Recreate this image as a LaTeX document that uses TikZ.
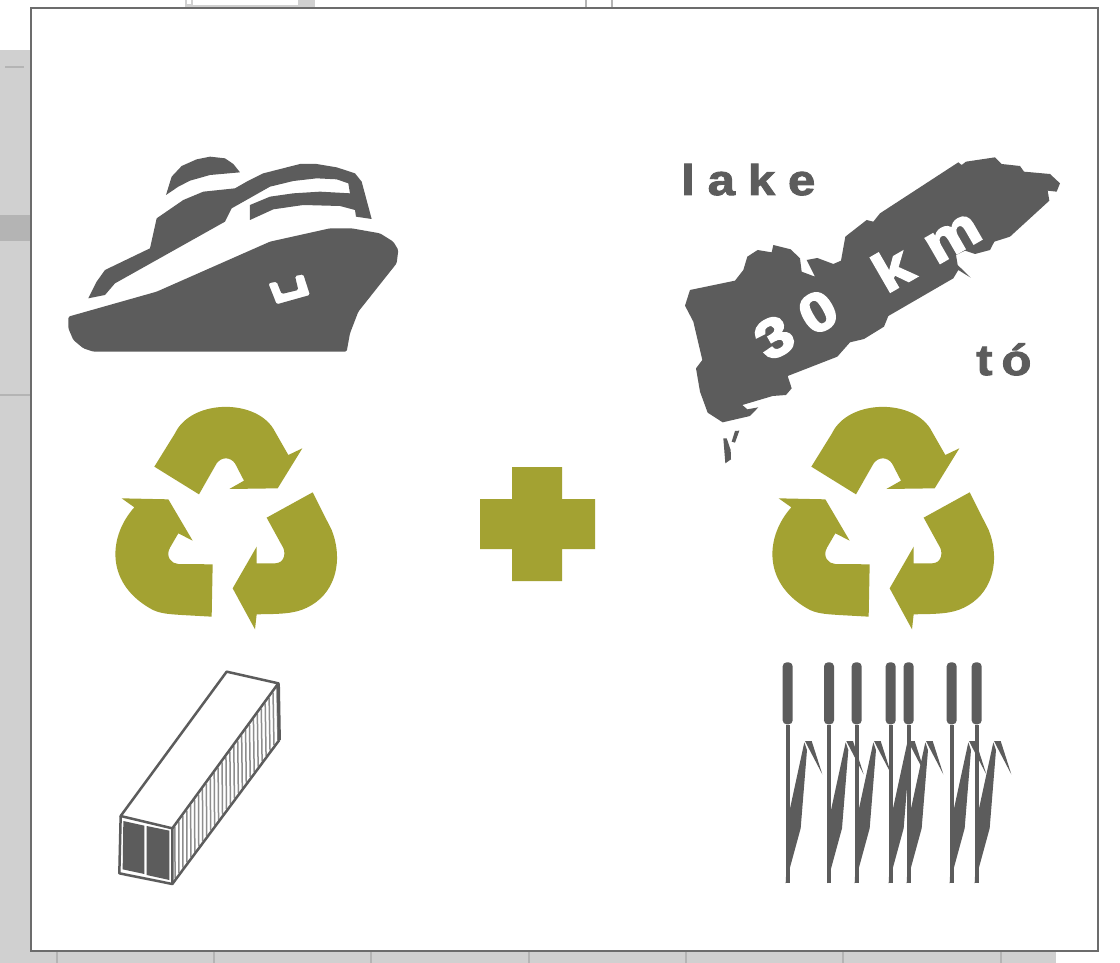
\documentclass[tikz,border=0pt]{standalone}
\usepackage{fontspec}
\newfontfamily\iconfont[LetterSpace=30,FakeStretch=1.14,FakeBold=2.2]{Liberation Sans Bold}
\newfontfamily\kmfont[LetterSpace=42,FakeStretch=1.16,FakeBold=4]{Liberation Sans Bold}
\definecolor{iconGray}{HTML}{5C5C5C}
\definecolor{iconOlive}{HTML}{A3A232}
\definecolor{paneGray}{HTML}{D0D0D0}
\definecolor{tickGray}{HTML}{B4B4B4}
\begin{document}
\begin{tikzpicture}[x=1pt,y=-1pt, icon/.style={fill=iconGray,draw=none}, olive/.style={fill=iconOlive,draw=none}, pane/.style={fill=paneGray,draw=none}, tick/.style={draw=tickGray,line width=1.5pt}, lab/.style={text=iconGray,inner sep=0pt,anchor=base west}, kmtext/.style={text=white,inner sep=0pt,rotate=30}, boxline/.style={draw=iconGray,line width=2.5pt,line join=round}]
\useasboundingbox (0,0) rectangle (1120,963);
% window behind the sheet
\fill[white] (0,0) rectangle (1120,963);
\fill[pane] (0,50) rectangle (31,963);
\fill[pane] (31,951) rectangle (1056,963);
\fill[pane] (185,0) rectangle (315,8);
\fill[white] (193,0) rectangle (298,5);
\fill[white] (187,0) rectangle (191,4);
\fill[tickGray] (0,215) rectangle (31,241);
\draw[tick] (5,67) -- (24,67);
\draw[tick] (0,395) -- (31,395);
\draw[tick] (586,0) -- (586,8);
\draw[tick] (612,0) -- (612,8);
\foreach \tickx in {57,214,371,529,686,843,1001}
  \draw[tick] (\tickx,951) -- (\tickx,963);
\fill[white] (31,8) rectangle (1098,951);
\draw[draw=iconGray!90,line width=1.2pt] (31,8) rectangle (1098,951);
% ship
\begin{scope}[shift={(50,140)},scale=1/3]
\fill[icon,even odd rule,rounded corners=1.5pt] (55,530) -- (320,455) -- (660,305) -- (840,265) -- (905,265) -- (990,280) -- (1030,305) -- (1045,330) -- (1040,370) -- (925,515) -- (900,580) -- (890,635) -- (130,635) -- (100,625) -- (70,600) -- (55,565) -- cycle
  (655,430) -- (680,425) -- (695,462) -- (745,450) -- (735,408) -- (760,403) -- (780,465) -- (680,493) -- cycle;
\fill[icon] (115,475) -- (165,465) -- (195,430) -- (525,245) -- (545,205) -- (660,140) -- (730,123) -- (800,115) -- (860,118) -- (895,130) -- (900,160) -- (810,155) -- (730,160) -- (660,170) -- (600,195) -- (600,240) -- (670,208) -- (760,195) -- (870,198) -- (915,210) -- (918,230) -- (965,237) -- (935,125) -- (915,100) -- (860,82) -- (800,72) -- (750,72) -- (640,100) -- (590,125) -- (555,145) -- (460,155) -- (400,180) -- (320,235) -- (300,325) -- (165,390) -- (140,425) -- cycle;
\fill[icon] (348,165) -- (365,110) -- (395,78) -- (440,58) -- (480,50) -- (525,55) -- (550,72) -- (570,97) -- (480,105) -- (420,122) -- (385,140) -- cycle;
\end{scope}
% lake
\begin{scope}[shift={(660,140)},scale=1/3]
\fill[icon] (75,497) -- (90,450) -- (225,422) -- (250,390) -- (262,350) -- (293,330) -- (335,337) -- (340,315) -- (392,328) -- (420,355) -- (425,395) -- (465,410) -- (440,360) -- (472,354) -- (520,372) -- (543,362) -- (556,290) -- (620,240) -- (640,245) -- (660,220) -- (895,67) -- (905,75) -- (918,65) -- (1005,52) -- (1025,72) -- (1080,78) -- (1092,95) -- (1170,102) -- (1200,130) -- (1190,155) -- (1163,152) -- (1168,182) -- (1050,290) -- (1003,305) -- (990,330) -- (945,342) -- (915,332) -- (888,345) -- (893,375) -- (932,413) -- (895,390) -- (880,415) -- (685,528) -- (672,560) -- (612,597) -- (570,607) -- (532,650) -- (383,708) -- (395,745) -- (378,765) -- (338,768) -- (247,795) -- (262,808) -- (295,802) -- (270,828) -- (188,847) -- (143,818) -- (120,755) -- (108,685) -- (127,660) -- (100,545) -- cycle;
\fill[icon] (190,895) -- (200,895) -- (212,930) -- (213,958) -- (196,970) -- cycle;
\fill[icon] (225,873) -- (238,872) -- (225,908) -- (215,905) -- cycle;
\end{scope}
\node[lab,font={\iconfont\fontsize{43}{43}\selectfont}] (lakelab) at (681,195) {lake};
\node[lab,font={\iconfont\fontsize{43}{43}\selectfont}] (tolab) at (976,375) {t\kern9ptó};
\node[kmtext,font={\kmfont\fontsize{54}{54}\selectfont}] (kmlab) at (867,283) {3\kern15.7pt0\kern11pt{} km};
% recycling marks
\foreach \recx in {0,657} {
\begin{scope}[shift={(100+\recx,395)},scale=1/3]
\fill[olive] (163,215) -- (225,115) .. controls (275,10) and (475,10) .. (525,110) -- (565,180) -- (607,160) -- (533,280) -- (388,282) -- (432,257) -- (405,205) .. controls (390,185) and (365,185) .. (350,205) -- (297,298) -- cycle;
\fill[olive] (65,310) -- (205,313) -- (278,437) -- (235,415) -- (210,458) .. controls (195,485) and (215,507) .. (235,507) -- (338,508) -- (335,665) -- (245,660) .. controls (200,657) and (175,655) .. (150,640) .. controls (12,560) and (28,420) .. (103,337) -- cycle;
\fill[olive] (638,292) -- (695,405) .. controls (725,480) and (715,570) .. (650,620) .. controls (610,650) and (575,655) .. (520,657) -- (470,658) -- (465,703) -- (398,580) -- (470,455) -- (470,505) -- (525,505) .. controls (555,505) and (560,470) .. (545,450) -- (500,368) -- cycle;
\end{scope}
}
% plus
\fill[olive] (512,467) -- (562,467) -- (562,499) -- (595,499) -- (595,549) -- (562,549) -- (562,581) -- (512,581) -- (512,549) -- (480,549) -- (480,499) -- (512,499) -- cycle;
% container
\begin{scope}[shift={(100,660)},scale=1/3]
\foreach \t in {0.025,0.062,...,0.99}
  \draw[iconGray!70,line width=1.5pt] ({217+\t*318},{505-\t*435+6}) -- ({217+\t*321},{672-\t*432-6});
\draw[boxline] (380,35) -- (535,70) -- (217,505) -- (62,468) -- cycle;
\draw[boxline] (62,468) -- (58,640) -- (217,672) -- (217,505);
\draw[boxline] (217,672) -- (538,240);
\draw[boxline,line width=3.2pt] (535,70) -- (538,240);
\fill[icon] (70,483) -- (133,497) -- (133,642) -- (68,628) -- cycle;
\fill[icon] (140,498) -- (208,512) -- (208,660) -- (140,645) -- cycle;
\end{scope}
% reeds
\foreach \reedx in {53,177,260,362,416,545,620} {
\begin{scope}[shift={(770+\reedx/3,655)},scale=1/3]
\fill[icon,rounded corners=4pt] (-15,22) rectangle (15,208);
\fill[icon] (-6,211) rectangle (6,685);
\fill[icon] (5,470) -- (50,262) -- (58,285) -- (39,520) -- (-6,685) -- cycle;
\fill[icon] (52,258) -- (72,258) -- (104,358) -- (57,268) -- cycle;
\end{scope}
}
\end{tikzpicture}
\end{document}
